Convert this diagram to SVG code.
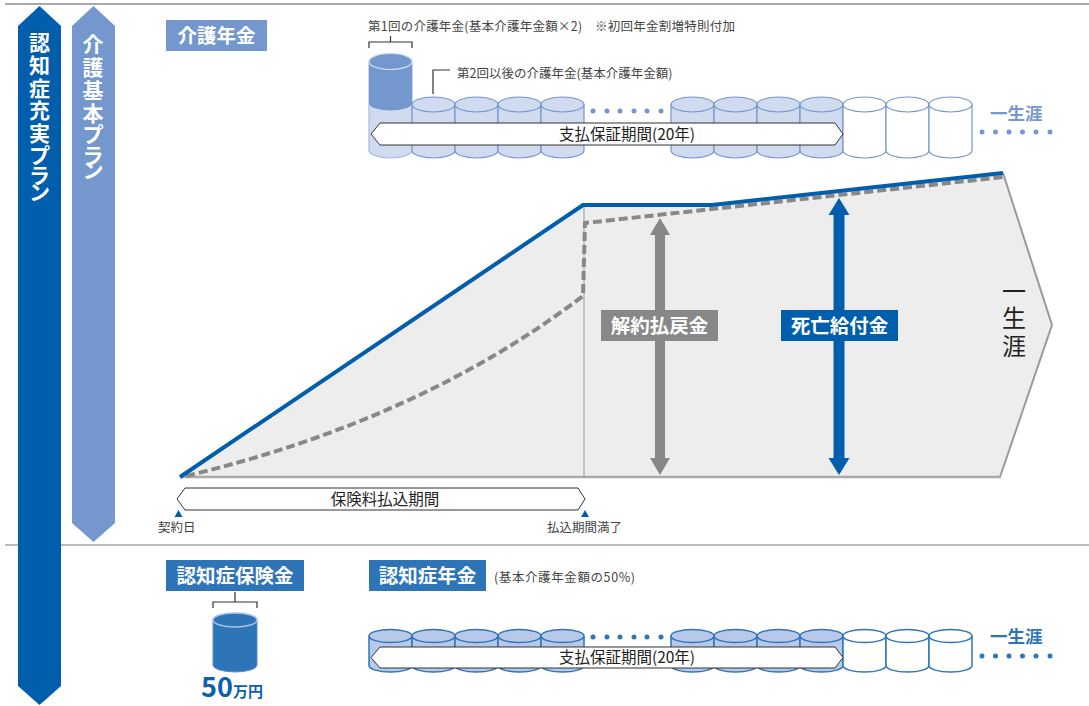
<svg xmlns="http://www.w3.org/2000/svg" width="1089" height="706" viewBox="0 0 1089 706">
<style>
text{font-family:"Noto Sans CJK JP","Noto Sans",sans-serif}
.w{fill:#fff;font-weight:700}
.sm{font-size:12.5px;fill:#444}
.ban{fill:#fff;stroke:#333;stroke-width:1}
.bant{font-size:15.5px;fill:#222;text-anchor:middle}
.ca{fill:#D0DBEF;stroke:#7497CD;stroke-width:1.2}
.cw{fill:#fff;stroke:#7497CD;stroke-width:1.2}
.cb{fill:#B7C8E8;stroke:#2E75B8;stroke-width:1.5}
.cbw{fill:#fff;stroke:#2E75B8;stroke-width:1.5}
.brk{fill:none;stroke:#333;stroke-width:1.2}
</style>
<defs>
<g id="cylT"><path d="M0,104.5 V150.5 A21.5,7.5 0 0 0 43,150.5 V104.5"/><ellipse cx="21.5" cy="104.5" rx="21.5" ry="7.5"/></g>
<g id="cylB"><path d="M0,636 V665.5 A21.5,6.5 0 0 0 43,665.5 V636"/><ellipse cx="21.5" cy="636" rx="21.5" ry="6.5"/></g>
</defs>
<rect width="1089" height="706" fill="#fff"/>
<line x1="5" y1="4" x2="1089" y2="4" stroke="#555" stroke-width="1.2"/>
<line x1="5" y1="545" x2="1089" y2="545" stroke="#777" stroke-width="1.2"/>

<g id="plan-full">
<polygon points="39.5,6 61,26 61,686 39.5,705 18,686 18,26" fill="#005EAD"/>
<text class="w" font-size="21" text-anchor="middle" x="39.5 39.5 39.5 39.5 39.5 39.5 39.5 39.5" y="50 73 96 118 141 163 183 200">認知症充実プラン</text>
</g>
<g id="plan-basic">
<polygon points="93.5,6 115,26 115,523 93.5,542 72,523 72,26" fill="#7497CD"/>
<text class="w" font-size="21" text-anchor="middle" x="93 93 93 93 93 93 93" y="52 75 98 121 142 163 178">介護基本プラン</text>
</g>

<g id="chart">
<polygon points="180,477 583,205 712,205 1003,173 1052,325 1000,477" fill="#EDEDED"/>
<path d="M1003,173 L1052,325 L1000,477" fill="none" stroke="#9A9A9A" stroke-width="2"/>
<line x1="180" y1="477" x2="1001" y2="477" stroke="#AAAAAA" stroke-width="2.5"/>
<line x1="584" y1="205" x2="584" y2="477" stroke="#999" stroke-width="1"/>
<path d="M186,476 Q420,420 583,296 L585,223 L1003,177" fill="none" stroke="#888" stroke-width="4" stroke-dasharray="9 4"/>
<path d="M180,477 L583,205 L712,205 L1003,173" fill="none" stroke="#005EAD" stroke-width="4"/>
<text font-size="24" fill="#222" text-anchor="middle" x="1014 1014 1014" y="300 327 355">一生涯</text>
</g>

<g id="connectors">
<polygon points="660,218 670,235 665,235 665,458 670,458 660,475 650,458 655,458 655,235 650,235" fill="#888"/>
<polygon points="839,198 849.5,215 844.5,215 844.5,458 849.5,458 839,475 828.5,458 833.5,458 833.5,215 828.5,215" fill="#005EAD"/>
<path class="brk" d="M369,48 V42 H412 V48 M390.5,42 V36"/>
<path class="brk" d="M433,94 V70 H450"/>
<path class="brk" d="M213,608 V602 H257 V608 M235,602 V592"/>
</g>

<g id="label-surrender">
<rect x="601" y="310" width="117" height="31" fill="#888"/>
<text class="w" font-size="19.5" x="659.5" y="333" text-anchor="middle">解約払戻金</text>
</g>
<g id="label-death">
<rect x="781" y="310" width="117" height="31" fill="#005EAD"/>
<text class="w" font-size="19.5" x="839.5" y="333" text-anchor="middle">死亡給付金</text>
</g>

<g id="premium-period">
<path class="ban" d="M177,499 L185,488 L578,488 L585,499 L578,510 L185,510 Z"/>
<text class="bant" x="385" y="505">保険料払込期間</text>
<polygon points="178.5,510 182.5,517 174.5,517" fill="#005EAD"/>
<polygon points="585,510 589,517 581,517" fill="#005EAD"/>
<text class="sm" x="158" y="532">契約日</text>
<text class="sm" x="547" y="532">払込期間満了</text>
</g>

<g id="care-pension">
<rect x="166" y="20" width="101" height="31" fill="#7497CD"/>
<text class="w" font-size="19.5" x="216.5" y="43" text-anchor="middle">介護年金</text>
<text class="sm" x="368" y="31" textLength="367" lengthAdjust="spacing">第1回の介護年金(基本介護年金額×2)　※初回年金割増特則付加</text>
<text class="sm" x="457" y="78">第2回以後の介護年金(基本介護年金額)</text>
<path d="M369,61.5 V150.5 A21.5,7.5 0 0 0 412,150.5 V61.5" fill="#D0DBEF" stroke="#A6BBE0" stroke-width="1.2"/>
<path d="M369,61.5 V103 A21.5,7.5 0 0 0 412,103 V61.5" fill="#7497CD"/>
<ellipse cx="390.5" cy="61.5" rx="21.5" ry="8" fill="#7497CD" stroke="#D0DBEF" stroke-width="1.2"/>
<use href="#cylT" x="412" class="ca"/>
<use href="#cylT" x="455" class="ca"/>
<use href="#cylT" x="498" class="ca"/>
<use href="#cylT" x="541" class="ca"/>
<use href="#cylT" x="671" class="ca"/>
<use href="#cylT" x="714" class="ca"/>
<use href="#cylT" x="757" class="ca"/>
<use href="#cylT" x="800" class="ca"/>
<use href="#cylT" x="843" class="cw"/>
<use href="#cylT" x="886" class="cw"/>
<use href="#cylT" x="929" class="cw"/>
<g fill="#7497CD">
<circle cx="593" cy="111" r="2.5"/><circle cx="607" cy="111" r="2.5"/><circle cx="620" cy="111" r="2.5"/><circle cx="634" cy="111" r="2.5"/><circle cx="647" cy="111" r="2.5"/><circle cx="661" cy="111" r="2.5"/>
<circle cx="982" cy="132" r="2.5"/><circle cx="995.5" cy="132" r="2.5"/><circle cx="1009" cy="132" r="2.5"/><circle cx="1022.5" cy="132" r="2.5"/><circle cx="1036" cy="132" r="2.5"/><circle cx="1050" cy="132" r="2.5"/>
</g>
<path class="ban" d="M371,134 L380,123 L835,123 L843,134 L835,145 L380,145 Z"/>
<text class="bant" x="627" y="139.5">支払保証期間(20年)</text>
<text x="990" y="120" font-size="17.5" font-weight="700" fill="#7497CD">一生涯</text>
</g>

<g id="dementia-lump">
<rect x="166" y="560" width="138" height="31" fill="#2E75B8"/>
<text class="w" font-size="19.5" x="235" y="583" text-anchor="middle">認知症保険金</text>
<path d="M213,620 V665 A22,7 0 0 0 257,665 V620" fill="#2E75B8" stroke="#5A8FCC" stroke-width="1"/>
<ellipse cx="235" cy="620" rx="22" ry="7" fill="#2E75B8" stroke="#A8C2E4" stroke-width="1.5"/>
<text x="201" y="697" font-weight="700" fill="#0A5FAE"><tspan font-size="27">50</tspan><tspan font-size="15">万円</tspan></text>
</g>

<g id="dementia-pension">
<rect x="369" y="560" width="117" height="31" fill="#2E75B8"/>
<text class="w" font-size="19.5" x="427.5" y="583" text-anchor="middle">認知症年金</text>
<text class="sm" x="494" y="582" textLength="141" lengthAdjust="spacing">(基本介護年金額の50%)</text>
<use href="#cylB" x="369" class="cb"/>
<use href="#cylB" x="412" class="cb"/>
<use href="#cylB" x="455" class="cb"/>
<use href="#cylB" x="498" class="cb"/>
<use href="#cylB" x="541" class="cb"/>
<use href="#cylB" x="671" class="cb"/>
<use href="#cylB" x="714" class="cb"/>
<use href="#cylB" x="757" class="cb"/>
<use href="#cylB" x="800" class="cb"/>
<use href="#cylB" x="843" class="cbw"/>
<use href="#cylB" x="886" class="cbw"/>
<use href="#cylB" x="929" class="cbw"/>
<g fill="#2E75B8">
<circle cx="593" cy="637" r="2.5"/><circle cx="607" cy="637" r="2.5"/><circle cx="620" cy="637" r="2.5"/><circle cx="634" cy="637" r="2.5"/><circle cx="647" cy="637" r="2.5"/><circle cx="661" cy="637" r="2.5"/>
<circle cx="982" cy="656" r="2.5"/><circle cx="995.5" cy="656" r="2.5"/><circle cx="1009" cy="656" r="2.5"/><circle cx="1022.5" cy="656" r="2.5"/><circle cx="1036" cy="656" r="2.5"/><circle cx="1050" cy="656" r="2.5"/>
</g>
<path class="ban" d="M371,657.5 L380,647 L835,647 L843,657.5 L835,668 L380,668 Z"/>
<text class="bant" x="627" y="663">支払保証期間(20年)</text>
<text x="990" y="643" font-size="17.5" font-weight="700" fill="#2E75B8">一生涯</text>
</g>
</svg>
